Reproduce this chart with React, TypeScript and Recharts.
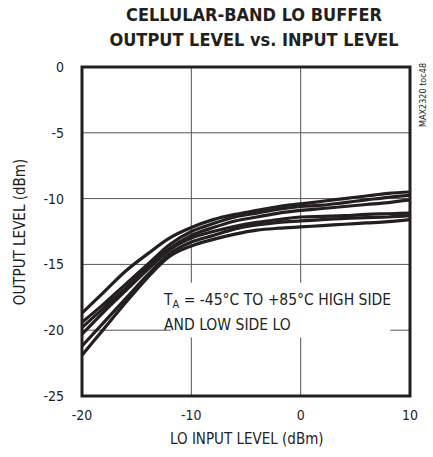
import { LineChart, Line, XAxis, YAxis, CartesianGrid, ReferenceArea } from "recharts";

const inputLevel = [-20, -18, -16, -14, -12, -10, -8, -6, -4, -2, 0, 2, 4, 6, 8, 10];

// upper bundle
const curveA = [-18.7, -17.1, -15.5, -14.2, -13.0, -12.2, -11.6, -11.2, -10.9, -10.6, -10.4, -10.2, -10.0, -9.8, -9.6, -9.5];
const curveB = [-19.4, -18.0, -16.5, -15.0, -13.5, -12.5, -11.9, -11.4, -11.1, -10.8, -10.6, -10.5, -10.3, -10.1, -9.9, -9.75];
const curveC = [-19.8, -18.3, -16.8, -15.2, -13.8, -12.8, -12.2, -11.7, -11.4, -11.1, -10.9, -10.75, -10.6, -10.45, -10.3, -10.1];
// lower bundle
const curveD = [-20.3, -18.6, -17.0, -15.4, -13.9, -13.0, -12.5, -12.1, -11.8, -11.6, -11.4, -11.35, -11.3, -11.2, -11.15, -11.1];
const curveE = [-21.2, -19.4, -17.6, -15.8, -14.2, -13.3, -12.8, -12.3, -12.0, -11.8, -11.7, -11.6, -11.5, -11.45, -11.4, -11.3];
const curveF = [-21.9, -19.9, -17.9, -16.0, -14.4, -13.6, -13.1, -12.7, -12.4, -12.25, -12.15, -12.05, -11.95, -11.85, -11.75, -11.6];

const xTicks = [-20, -10, 0, 10];
const yTicks = [0, -5, -10, -15, -20, -25];

const series = { a: curveA, b: curveB, c: curveC, d: curveD, e: curveE, f: curveF };

const data = inputLevel.map((x, i) => {
  const row: Record<string, number> = { x };
  Object.entries(series).forEach(([k, arr]) => {
    row[k] = arr[i];
  });
  return row;
});

const font = '"Liberation Sans Narrow", "DejaVu Sans Condensed", sans-serif';
const ink = "#231f20";

export default function App() {
  return (
    <div style={{ position: "absolute", left: 0, top: 0, width: 433, height: 457, background: "#fff", fontFamily: font, color: ink }}>
      <div
        style={{
          position: "absolute",
          left: 0,
          top: 2,
          width: 508,
          textAlign: "center",
          fontWeight: 700,
          fontSize: 18,
          lineHeight: "25px",
        }}
      >
        CELLULAR-BAND LO BUFFER
        <br />
        OUTPUT LEVEL vs. INPUT LEVEL
      </div>
      <LineChart
        width={433}
        height={457}
        data={data}
        margin={{ top: 67, right: 23, left: 42, bottom: 31 }}
      >
        <CartesianGrid stroke="#555" strokeWidth={1} />
        <XAxis
          dataKey="x"
          type="number"
          domain={[-20, 10]}
          ticks={xTicks}
          axisLine={false}
          tickLine={false}
          height={30}
          tickMargin={8}
          tick={{ fill: ink, fontSize: 14, fontFamily: font }}
        />
        <YAxis
          type="number"
          domain={[-25, 0]}
          ticks={yTicks}
          axisLine={false}
          tickLine={false}
          width={40}
          tickMargin={12}
          tick={{ fill: ink, fontSize: 14, fontFamily: font }}
        />
        <ReferenceArea x1={-11.9} x2={8.2} y1={-20.55} y2={-16.4} fill="#fff" fillOpacity={1} stroke="none" />
        {Object.keys(series).map((k) => (
          <Line
            key={k}
            dataKey={k}
            type="monotone"
            stroke={ink}
            strokeWidth={3.2}
            dot={false}
            isAnimationActive={false}
          />
        ))}
        <ReferenceArea x1={-20} x2={10} y1={-25} y2={0} fill="none" stroke={ink} strokeWidth={3} />
      </LineChart>
      <div style={{ position: "absolute", left: 164, top: 290, fontSize: 15.5, lineHeight: "20px", whiteSpace: "nowrap" }}>
        T<sub style={{ fontSize: 11, verticalAlign: "-3px" }}>A</sub> = -45°C TO +85°C HIGH SIDE
        <br />
        AND LOW SIDE LO
      </div>
      <div
        style={{
          position: "absolute",
          left: 170,
          top: 430,
          width: 153,
          textAlign: "center",
          fontSize: 15,
          lineHeight: "18px",
          whiteSpace: "nowrap",
        }}
      >
        LO INPUT LEVEL (dBm)
      </div>
      <div
        style={{
          position: "absolute",
          left: 20,
          top: 232,
          transform: "translate(-50%, -50%) rotate(-90deg)",
          fontSize: 15,
          whiteSpace: "nowrap",
        }}
      >
        OUTPUT LEVEL (dBm)
      </div>
      <div
        style={{
          position: "absolute",
          left: 423,
          top: 95,
          transform: "translate(-50%, -50%) rotate(-90deg)",
          fontSize: 9,
          whiteSpace: "nowrap",
        }}
      >
        MAX2320 toc48
      </div>
    </div>
  );
}
